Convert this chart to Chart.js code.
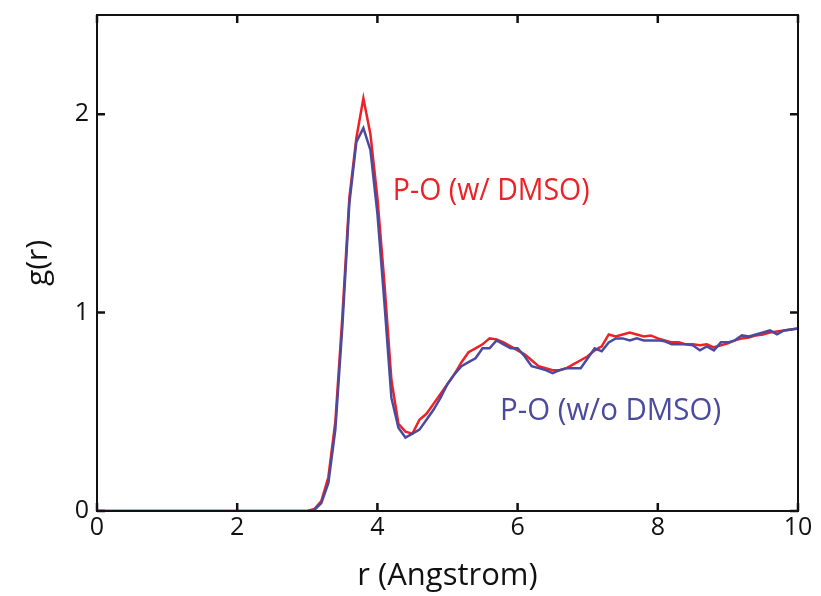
<!DOCTYPE html>
<html lang="en">
<head>
  <meta charset="UTF-8">
  <title>g(r) P-O</title>
  <script src="https://cdn.jsdelivr.net/npm/chart.js"></script>
  <style>
    html, body { margin: 0; padding: 0; background: #fff; }
    #wrap { width: 821px; height: 596px; }
  </style>
</head>
<body>
  <div id="wrap"><canvas id="grChart" width="821" height="596"></canvas></div>
  <script>
    // r values (Angstrom)
    const rVals = [0, 3.0, 3.1, 3.2, 3.3, 3.4, 3.5, 3.6, 3.7, 3.8, 3.9,
      4.0, 4.1, 4.2, 4.3, 4.4, 4.5, 4.6, 4.7, 4.8, 4.9,
      5.0, 5.1, 5.2, 5.3, 5.4, 5.5, 5.6, 5.7, 5.8, 5.9,
      6.0, 6.1, 6.2, 6.3, 6.4, 6.5, 6.6, 6.7, 6.8, 6.9,
      7.0, 7.1, 7.2, 7.3, 7.4, 7.5, 7.6, 7.7, 7.8, 7.9,
      8.0, 8.1, 8.2, 8.3, 8.4, 8.5, 8.6, 8.7, 8.8, 8.9,
      9.0, 9.1, 9.2, 9.3, 9.4, 9.5, 9.6, 9.7, 9.8, 9.9, 10.0];

    // P-O with DMSO
    const gWithDmso = [0, 0, 0.01, 0.05, 0.17, 0.45, 0.98, 1.58, 1.88, 2.08, 1.90,
      1.58, 1.15, 0.66, 0.44, 0.40, 0.39, 0.46, 0.49, 0.54, 0.59,
      0.64, 0.69, 0.75, 0.80, 0.82, 0.84, 0.87, 0.865, 0.85, 0.83,
      0.81, 0.79, 0.76, 0.73, 0.72, 0.71, 0.71, 0.72, 0.74, 0.76,
      0.78, 0.81, 0.83, 0.89, 0.88, 0.89, 0.90, 0.89, 0.88, 0.885,
      0.87, 0.86, 0.85, 0.85, 0.84, 0.84, 0.835, 0.84, 0.825, 0.835,
      0.845, 0.86, 0.87, 0.875, 0.885, 0.89, 0.90, 0.905, 0.91, 0.915, 0.92];

    // P-O without DMSO
    const gWithoutDmso = [0, 0, 0.005, 0.04, 0.14, 0.41, 0.93, 1.55, 1.86, 1.93, 1.82,
      1.50, 1.05, 0.57, 0.42, 0.37, 0.39, 0.41, 0.46, 0.51, 0.57,
      0.64, 0.69, 0.73, 0.75, 0.77, 0.82, 0.82, 0.86, 0.84, 0.82,
      0.82, 0.78, 0.73, 0.72, 0.71, 0.695, 0.71, 0.72, 0.72, 0.72,
      0.77, 0.82, 0.805, 0.85, 0.87, 0.87, 0.86, 0.87, 0.86, 0.86,
      0.86, 0.855, 0.84, 0.84, 0.84, 0.835, 0.81, 0.83, 0.81, 0.85,
      0.85, 0.86, 0.885, 0.88, 0.89, 0.90, 0.91, 0.89, 0.91, 0.915, 0.92];

    const xTicks = [0, 2, 4, 6, 8, 10];
    const yTicks = [0, 1, 2];

    const RED = '#ec2227';
    const BLUE = '#4a4a9e';
    const FONT = "'Open Sans', sans-serif";

    const toPoints = (ys) => rVals.map((r, i) => ({ x: r, y: ys[i] }));

    // squeezed text, the original font is narrower than Open Sans
    function narrowText(ctx, text, px, py, squeeze) {
      ctx.save();
      ctx.translate(px, py);
      ctx.scale(squeeze, 1);
      ctx.fillText(text, 0, 0);
      ctx.restore();
    }

    // frame, inward ticks and curve labels
    const framePlugin = {
      id: 'frame',
      afterDraw(chart) {
        const { ctx, chartArea: a, scales: { x, y } } = chart;
        ctx.save();
        ctx.strokeStyle = '#111';
        ctx.lineWidth = 2;
        ctx.strokeRect(a.left, a.top, a.right - a.left, a.bottom - a.top);
        ctx.lineWidth = 2.5;
        ctx.beginPath();
        xTicks.forEach(v => {
          const px = x.getPixelForValue(v);
          ctx.moveTo(px, a.bottom); ctx.lineTo(px, a.bottom - 8);
          ctx.moveTo(px, a.top); ctx.lineTo(px, a.top + 8);
        });
        yTicks.forEach(v => {
          const py = y.getPixelForValue(v);
          ctx.moveTo(a.left, py); ctx.lineTo(a.left + 8, py);
          ctx.moveTo(a.right, py); ctx.lineTo(a.right - 8, py);
        });
        ctx.stroke();

        ctx.font = "31px " + FONT;
        ctx.textBaseline = 'alphabetic';
        ctx.textAlign = 'left';
        ctx.fillStyle = RED;
        narrowText(ctx, 'P-O (w/ DMSO)', x.getPixelForValue(4.22), y.getPixelForValue(1.57), 0.92);
        ctx.fillStyle = BLUE;
        narrowText(ctx, 'P-O (w/o DMSO)', x.getPixelForValue(5.75), y.getPixelForValue(0.46), 0.95);
        ctx.restore();
      }
    };

    const ctx = document.getElementById('grChart').getContext('2d');
    new Chart(ctx, {
      type: 'line',
      data: {
        datasets: [
          {
            label: 'P-O (w/ DMSO)',
            data: toPoints(gWithDmso),
            borderColor: RED,
            borderWidth: 2.5,
            pointRadius: 0,
            tension: 0,
            order: 1
          },
          {
            label: 'P-O (w/o DMSO)',
            data: toPoints(gWithoutDmso),
            borderColor: BLUE,
            borderWidth: 2.5,
            pointRadius: 0,
            tension: 0,
            order: 0
          }
        ]
      },
      options: {
        responsive: false,
        animation: false,
        layout: { padding: { top: 15, right: 23, left: 0, bottom: 0 } },
        plugins: { legend: { display: false }, tooltip: { enabled: false } },
        scales: {
          x: {
            type: 'linear',
            min: 0,
            max: 10,
            afterBuildTicks: (s) => { s.ticks = xTicks.map(v => ({ value: v })); },
            afterFit: (s) => { s.height = 85; s.paddingLeft = 0; s.paddingRight = 0; },
            grid: { display: false, drawTicks: false },
            border: { display: false },
            ticks: { color: '#111', font: { family: FONT, size: 25 }, padding: 2, maxRotation: 0 },
            title: {
              display: true,
              text: 'r (Angstrom)',
              color: '#111',
              font: { family: FONT, size: 31 },
              padding: { top: 1, bottom: 1 }
            }
          },
          y: {
            type: 'linear',
            min: 0,
            max: 2.5,
            afterBuildTicks: (s) => { s.ticks = yTicks.map(v => ({ value: v })); },
            afterFit: (s) => { s.width = 97; s.paddingTop = 0; s.paddingBottom = 0; },
            grid: { display: false, drawTicks: false },
            border: { display: false },
            ticks: { color: '#111', font: { family: FONT, size: 25 }, padding: 8 },
            title: {
              display: true,
              text: 'g(r)',
              color: '#111',
              font: { family: FONT, size: 30 },
              padding: { top: 20, bottom: 0 }
            }
          }
        }
      },
      plugins: [framePlugin]
    });
  </script>
</body>
</html>
